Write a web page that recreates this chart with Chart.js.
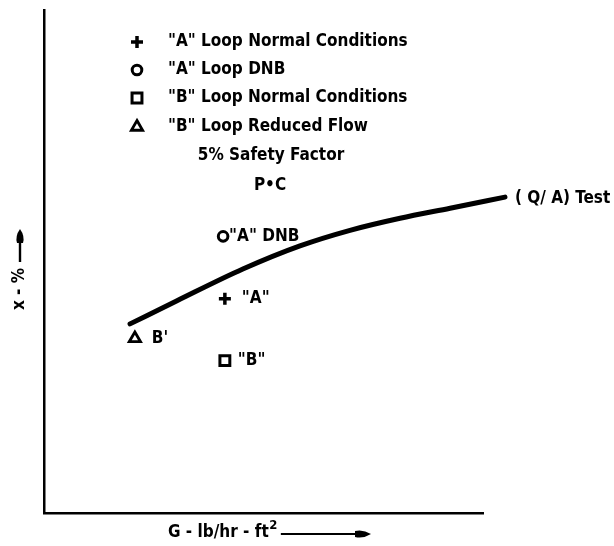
<!DOCTYPE html>
<html><head><meta charset="utf-8">
<script src="https://cdn.jsdelivr.net/npm/chart.js@4/dist/chart.umd.min.js"></script>
<style>html,body{margin:0;padding:0;background:#fff}#wrap{width:614px;height:546px}</style>
</head><body><div id="wrap"><canvas id="c" width="614" height="546"></canvas></div>
<script>
// ---- data ----
const testCurveG = [19.6, 30.3, 45.3, 58.3, 69.7, 81.1, 92.5, 105];
const testCurveX = [37.6, 42.2, 48.5, 53.1, 56.2, 58.6, 60.6, 62.8];
const curveLabel = '( Q/ A) Test';
const seriesNames = ['"A" Loop Normal Conditions', '"A" Loop DNB', '"B" Loop Normal Conditions', '"B" Loop Reduced Flow'];
const pointLabels = ['"A"', '"A" DNB', '"B"', "B'"];
const pointG = [41.2, 40.8, 41.2, 20.7];
const pointX = [42.6, 55.0, 30.3, 34.7];
const pointStyles = ['cross', 'circle', 'rect', 'triangle'];
const noteLines = ['5% Safety Factor', 'P•C'];
const xTitle = 'G - lb/hr - ft';
const xTitleSup = '2';
const yTitle = 'x - %';

// ---- styles ----
const FAMILY = '"Liberation Sans Narrow", "DejaVu Sans Condensed", "Arial Narrow", sans-serif';
const pointRadius = [6, 4.8, 7, 6.5];
const pointBorder = [3.5, 3, 3, 2.8];
const labelOffset = [17, 6, 13, 17];

const cv = document.getElementById('c');
const mctx = cv.getContext('2d');
mctx.font = 'bold 100px ' + FAMILY;
const FS = Math.round(100 * 239 / mctx.measureText(seriesNames[0]).width * 10) / 10;
const FONT = 'bold ' + FS + 'px ' + FAMILY;

const markerSets = pointStyles.map((ps, i) => ({
  label: seriesNames[i],
  type: 'scatter',
  data: [{x: pointG[i], y: pointX[i]}],
  pointStyle: ps,
  pointRadius: pointRadius[i],
  pointBorderWidth: pointBorder[i],
  borderColor: '#000',
  backgroundColor: ps === 'cross' ? '#000' : '#fff',
  showLine: false,
  clip: false
}));

function drawArrowHead(ctx, x, y, dir, len, half) {
  ctx.beginPath();
  if (dir === 'up') {
    ctx.moveTo(x, y);
    ctx.quadraticCurveTo(x + half, y + len * 0.5, x + half * 0.6, y + len);
    ctx.lineTo(x - half * 0.6, y + len);
    ctx.quadraticCurveTo(x - half, y + len * 0.5, x, y);
  } else {
    ctx.moveTo(x, y);
    ctx.quadraticCurveTo(x - len * 0.5, y - half, x - len, y - half * 0.6);
    ctx.lineTo(x - len, y + half * 0.6);
    ctx.quadraticCurveTo(x - len * 0.5, y + half, x, y);
  }
  ctx.closePath();
  ctx.fill();
}

const annot = {
  id: 'annot',
  afterDatasetsDraw(chart) {
    const ctx = chart.ctx;
    ctx.save();
    ctx.fillStyle = '#000';
    ctx.strokeStyle = '#000';
    ctx.font = FONT;
    ctx.textBaseline = 'middle';
    ctx.textAlign = 'left';
    for (let i = 0; i < pointStyles.length; i++) {
      const el = chart.getDatasetMeta(i + 1).data[0];
      ctx.fillText(pointLabels[i], el.x + labelOffset[i], el.y);
    }
    const cm = chart.getDatasetMeta(0).data;
    const last = cm[cm.length - 1];
    ctx.fillText(curveLabel, last.x + 10, last.y + 1);
    const lx = 137, tx = 168, rows = [42, 70, 98, 127];
    for (let i = 0; i < seriesNames.length; i++) {
      ctx.fillStyle = pointStyles[i] === 'cross' ? '#000' : '#fff';
      ctx.lineWidth = pointBorder[i];
      Chart.helpers.drawPoint(ctx, {pointStyle: pointStyles[i], radius: pointRadius[i], rotation: 0, borderWidth: pointBorder[i]}, lx, rows[i]);
      ctx.fillStyle = '#000';
      ctx.fillText(seriesNames[i], tx, rows[i]);
    }
    ctx.textAlign = 'center';
    ctx.fillText(noteLines[0], 271, 156);
    ctx.fillText(noteLines[1], 270, 186);
    ctx.textAlign = 'left';
    const xt = 168, yt = 533;
    ctx.fillText(xTitle, xt, yt);
    const w = ctx.measureText(xTitle).width;
    ctx.font = 'bold ' + Math.round(FS * 0.75) + 'px ' + FAMILY;
    ctx.fillText(xTitleSup, xt + w + 0.5, yt - 7);
    const w2 = ctx.measureText(xTitleSup).width;
    ctx.lineWidth = 1.8;
    ctx.beginPath();
    ctx.moveTo(xt + w + w2 + 4, yt + 1);
    ctx.lineTo(358, yt + 1);
    ctx.stroke();
    drawArrowHead(ctx, 371, yt + 1, 'right', 16, 5);
    ctx.font = FONT;
    ctx.save();
    ctx.translate(20, 289);
    ctx.rotate(-Math.PI / 2);
    ctx.textAlign = 'center';
    ctx.fillText(yTitle, 0, 0);
    ctx.restore();
    ctx.lineWidth = 2.4;
    ctx.beginPath();
    ctx.moveTo(20, 262);
    ctx.lineTo(20, 240);
    ctx.stroke();
    drawArrowHead(ctx, 20, 229, 'up', 14, 5);
    ctx.restore();
  }
};

new Chart(cv, {
  type: 'scatter',
  data: {
    datasets: [{
      label: 'test',
      type: 'line',
      data: testCurveG.map((g, i) => ({x: g, y: testCurveX[i]})),
      borderColor: '#000',
      borderWidth: 5,
      borderCapStyle: 'round',
      pointRadius: 0,
      cubicInterpolationMode: 'monotone',
      fill: false,
      clip: false
    }].concat(markerSets)
  },
  options: {
    responsive: false,
    animation: false,
    devicePixelRatio: 1,
    layout: {padding: {left: 44, right: 131, top: 8, bottom: 33}},
    plugins: {legend: {display: false}, tooltip: {enabled: false}, title: {display: false}},
    scales: {
      x: {type: 'linear', min: 0, max: 100, display: true,
          grid: {display: false, drawTicks: false}, ticks: {display: false},
          border: {display: true, color: '#000', width: 2.5}},
      y: {type: 'linear', min: 0, max: 100, display: true,
          grid: {display: false, drawTicks: false}, ticks: {display: false},
          border: {display: true, color: '#000', width: 2.5}}
    }
  },
  plugins: [annot]
});
</script>
</body></html>
